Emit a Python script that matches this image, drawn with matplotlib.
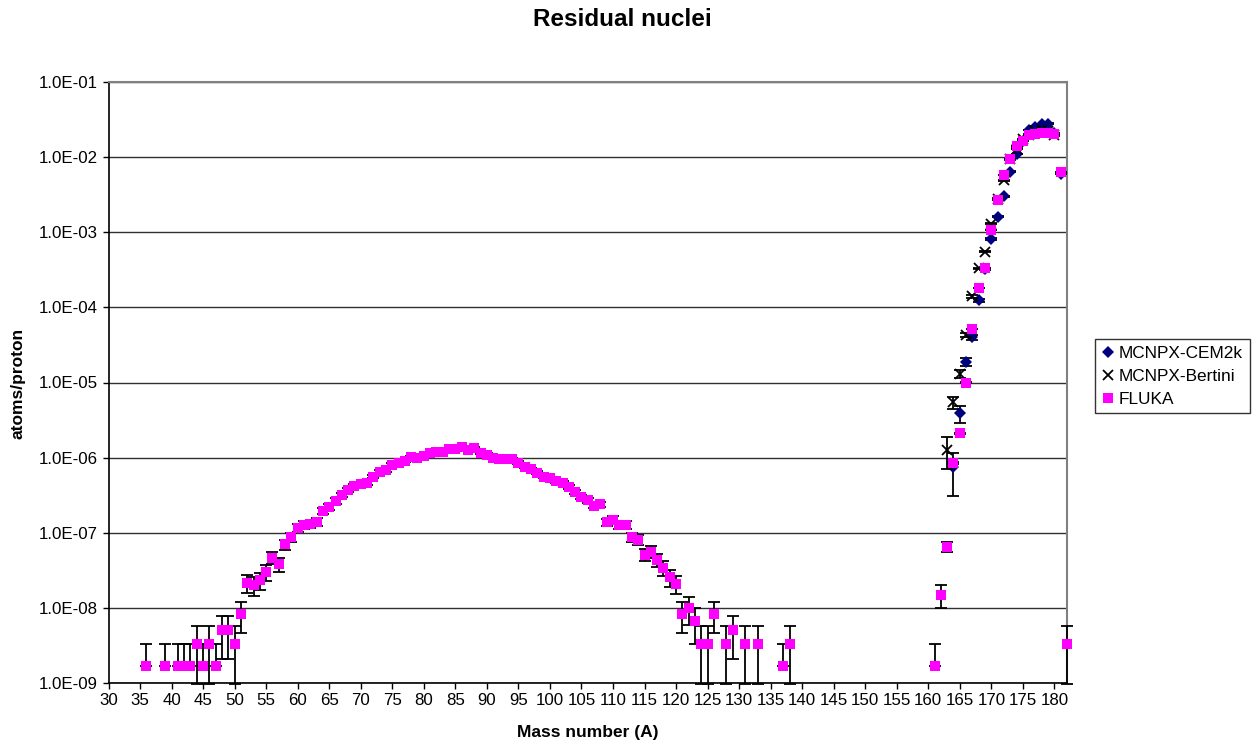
import numpy as np
import matplotlib
matplotlib.use("Agg")
import matplotlib.pyplot as plt
from matplotlib.lines import Line2D
from matplotlib.ticker import FixedLocator, FuncFormatter, NullLocator

plt.rcParams['font.family'] = ['Liberation Sans', 'DejaVu Sans']

# ---------------- data: residual nuclei yield (atoms/proton) vs mass number ----------------
# MCNPX with the CEM2k model
cem_mass = [164, 165, 166, 167, 168, 169, 170, 171, 172, 173, 174, 175, 176, 177, 178, 179, 180, 181]
cem_yield = [7.4e-7, 3.9e-6, 1.88e-5, 4.0e-5, 1.24e-4, 3.2e-4, 8.1e-4, 1.62e-3, 3.0e-3, 6.4e-3,
             1.1e-2, 1.65e-2, 2.3e-2, 2.55e-2, 2.75e-2, 2.8e-2, 2.1e-2, 6.0e-3]
cem_err = [4.3e-7, 1.0e-6, 2.2e-6, 3.0e-6, 6.0e-6, 1.0e-5, 2.0e-5, 3.0e-5, 4.0e-5, 6.0e-5,
           8.0e-5, 1.0e-4, 1.2e-4, 1.3e-4, 1.3e-4, 1.3e-4, 1.2e-4, 6.0e-5]

# MCNPX with the Bertini model
bertini_mass = [163, 164, 165, 166, 167, 168, 169, 170, 171, 172, 173, 174, 175, 176, 177, 178, 179, 180]
bertini_yield = [1.28e-6, 5.5e-6, 1.3e-5, 4.3e-5, 1.4e-4, 3.3e-4, 5.5e-4, 1.3e-3, 2.8e-3, 4.9e-3,
                 9.5e-3, 1.3e-2, 1.75e-2, 2.0e-2, 2.2e-2, 2.3e-2, 2.2e-2, 1.95e-2]
bertini_err = [5.8e-7, 1.0e-6, 1.5e-6, 2.5e-6, 5.0e-6, 8.0e-6, 1.0e-5, 2.0e-5, 3.0e-5, 4.0e-5,
               6.0e-5, 8.0e-5, 1.0e-4, 1.1e-4, 1.2e-4, 1.2e-4, 1.2e-4, 1.1e-4]

# FLUKA
fluka_mass = [36, 39, 41, 42, 43, 44, 45, 46, 47, 48, 49, 50, 51, 52, 53, 54, 55, 56, 57, 58,
              59, 60, 61, 62, 63, 64, 65, 66, 67, 68, 69, 70, 71, 72, 73, 74, 75, 76, 77, 78,
              79, 80, 81, 82, 83, 84, 85, 86, 87, 88, 89, 90, 91, 92, 93, 94, 95, 96, 97, 98,
              99, 100, 101, 102, 103, 104, 105, 106, 107, 108, 109, 110, 111, 112, 113, 114, 115, 116, 117, 118,
              119, 120, 121, 122, 123, 124, 125, 126, 128, 129, 131, 133, 137, 138,
              161, 162, 163, 164, 165, 166, 167, 168, 169, 170, 171, 172, 173, 174, 175, 176,
              177, 178, 179, 180, 181, 182]
fluka_yield = [1.67e-9, 1.67e-9, 1.67e-9, 1.67e-9, 1.67e-9, 3.33e-9, 1.67e-9, 3.33e-9, 1.67e-9, 5.0e-9,
               5.0e-9, 3.33e-9, 8.33e-9, 2.17e-8, 2.0e-8, 2.33e-8, 3.0e-8, 4.67e-8, 3.83e-8, 7.0e-8,
               8.8e-8, 1.17e-7, 1.27e-7, 1.3e-7, 1.4e-7, 1.95e-7, 2.2e-7, 2.65e-7, 3.2e-7, 3.7e-7,
               4.2e-7, 4.45e-7, 4.6e-7, 5.6e-7, 6.5e-7, 6.8e-7, 8.0e-7, 8.4e-7, 9.0e-7, 1.02e-6,
               9.8e-7, 1.06e-6, 1.15e-6, 1.18e-6, 1.2e-6, 1.3e-6, 1.3e-6, 1.39e-6, 1.26e-6, 1.35e-6,
               1.15e-6, 1.1e-6, 1.0e-6, 9.6e-7, 9.5e-7, 9.6e-7, 8.6e-7, 7.6e-7, 7.0e-7, 6.3e-7,
               5.6e-7, 5.3e-7, 4.9e-7, 4.6e-7, 4.1e-7, 3.5e-7, 3.0e-7, 2.7e-7, 2.3e-7, 2.4e-7,
               1.37e-7, 1.5e-7, 1.28e-7, 1.28e-7, 8.7e-8, 8.1e-8, 5.1e-8, 5.6e-8, 4.3e-8, 3.4e-8,
               2.55e-8, 2.1e-8, 8.33e-9, 1.0e-8, 6.67e-9, 3.33e-9, 3.33e-9, 8.33e-9, 3.33e-9, 5.0e-9,
               3.33e-9, 3.33e-9, 1.67e-9, 3.33e-9,
               1.67e-9, 1.5e-8, 6.5e-8, 8.5e-7, 2.1e-6, 1.0e-5, 5.2e-5, 1.8e-4, 3.3e-4, 1.07e-3,
               2.65e-3, 5.8e-3, 9.3e-3, 1.42e-2, 1.65e-2, 2.0e-2, 2.05e-2, 2.1e-2, 2.1e-2, 2.05e-2,
               6.3e-3, 3.33e-9]
fluka_err = [1.67e-9, 1.67e-9, 1.67e-9, 1.67e-9, 1.67e-9, 2.36e-9, 1.67e-9, 2.36e-9, 1.67e-9, 2.89e-9,
             2.89e-9, 2.36e-9, 3.73e-9, 6.0e-9, 5.8e-9, 6.2e-9, 7.1e-9, 8.8e-9, 8.0e-9, 1.08e-8,
             1.21e-8, 1.40e-8, 1.46e-8, 1.47e-8, 1.53e-8, 1.80e-8, 1.92e-8, 2.1e-8, 2.31e-8, 2.48e-8,
             2.65e-8, 2.72e-8, 2.77e-8, 3.06e-8, 3.29e-8, 3.37e-8, 3.65e-8, 3.74e-8, 3.87e-8, 4.12e-8,
             4.04e-8, 4.2e-8, 4.38e-8, 4.43e-8, 4.47e-8, 4.65e-8, 4.65e-8, 4.81e-8, 4.58e-8, 4.74e-8,
             4.38e-8, 4.28e-8, 4.08e-8, 4.0e-8, 3.98e-8, 4.0e-8, 3.79e-8, 3.56e-8, 3.42e-8, 3.24e-8,
             3.06e-8, 2.97e-8, 2.86e-8, 2.77e-8, 2.61e-8, 2.42e-8, 2.24e-8, 2.12e-8, 1.96e-8, 2.0e-8,
             1.51e-8, 1.58e-8, 1.46e-8, 1.46e-8, 1.2e-8, 1.16e-8, 9.2e-9, 9.7e-9, 8.5e-9, 7.5e-9,
             6.5e-9, 5.9e-9, 3.73e-9, 4.08e-9, 3.33e-9, 2.36e-9, 2.36e-9, 3.73e-9, 2.36e-9, 2.89e-9,
             2.36e-9, 2.36e-9, 1.67e-9, 2.36e-9,
             1.67e-9, 5.0e-9, 1.04e-8, 3.76e-8, 5.9e-8, 1.29e-7, 2.9e-7, 5.5e-7, 7.4e-7, 1.3e-6,
             2.1e-6, 3.1e-6, 3.9e-6, 4.9e-6, 5.2e-6, 5.8e-6, 5.8e-6, 5.9e-6, 5.9e-6, 5.8e-6,
             3.2e-6, 2.36e-9]

x_ticks = list(range(30, 185, 5))
y_ticks = [1e-9, 1e-8, 1e-7, 1e-6, 1e-5, 1e-4, 1e-3, 1e-2, 1e-1]

NAVY = '#000080'
MAGENTA = '#FF00FF'

W, H = 1257, 748
fig = plt.figure(figsize=(W / 100, H / 100), dpi=100)
left, right, top, bottom = 108.5, 1067, 82, 683
ax = fig.add_axes([left / W, 1 - bottom / H, (right - left) / W, (bottom - top) / H])
ax.set_yscale('log')
ax.set_xlim(30, 182)
ax.set_ylim(1e-9, 1e-1)


def lower_err(vals, errs):
    v = np.asarray(vals)
    e = np.asarray(errs)
    # a one-sigma bar that would reach zero has no lower arm on a log axis
    return np.where(e >= v * 0.999, 0.0, e)


def draw_series(xs, ys, es, marker, color, size, z, mew=0):
    ax.errorbar(xs, ys, yerr=[lower_err(ys, es), es], fmt='none', ecolor='black',
                elinewidth=1.3, capsize=4.2, capthick=1.3, zorder=z, clip_on=False)
    ax.plot(xs, ys, ls='none', marker=marker, color=color, markersize=size,
            markeredgewidth=mew, markeredgecolor=color, zorder=z + 0.5, clip_on=False)


draw_series(cem_mass, cem_yield, cem_err, 'D', NAVY, 6.0, 3)
draw_series(bertini_mass, bertini_yield, bertini_err, 'x', 'black', 6.5, 4, mew=1.3)
draw_series(fluka_mass, fluka_yield, fluka_err, 's', MAGENTA, 7.7, 5)

# axes styling
ax.yaxis.set_major_locator(FixedLocator(y_ticks))
ax.yaxis.set_minor_locator(NullLocator())
ax.yaxis.set_major_formatter(FuncFormatter(lambda v, p: f"{v:.1E}"))
ax.xaxis.set_major_locator(FixedLocator(x_ticks))
ax.xaxis.set_minor_locator(NullLocator())
ax.tick_params(axis='both', direction='out', length=4.5, width=1, labelsize=12.2, colors='black', pad=3)
ax.yaxis.grid(True, which='major', color='#303030', linewidth=1.0, zorder=1)
ax.set_axisbelow(True)
for s in ('left', 'bottom'):
    ax.spines[s].set_color('black')
    ax.spines[s].set_linewidth(1.2)
for s in ('top', 'right'):
    ax.spines[s].set_color('#808080')
    ax.spines[s].set_linewidth(1.5)

fig.text(622 / W, 1 - 19 / H, 'Residual nuclei', ha='center', va='center',
         fontsize=17.5, fontweight='bold')
fig.text(587.5 / W, 1 - 733 / H, 'Mass number (A)', ha='center', va='center',
         fontsize=12.5, fontweight='bold')
fig.text(18 / W, 1 - 383 / H, 'atoms/proton', ha='center', va='center', rotation=90,
         fontsize=12.5, fontweight='bold')

handles = [
    Line2D([], [], ls='none', marker='D', color=NAVY, markersize=6.0, markeredgewidth=0),
    Line2D([], [], ls='none', marker='x', color='black', markersize=6.5, markeredgewidth=1.3),
    Line2D([], [], ls='none', marker='s', color=MAGENTA, markersize=7.7, markeredgewidth=0),
]
labels = ['MCNPX-CEM2k', 'MCNPX-Bertini', 'FLUKA']
leg = fig.legend(handles, labels, loc='upper left', bbox_to_anchor=(1095 / W, 1 - 339 / H),
                 fontsize=12.4, frameon=True, fancybox=False, shadow=False,
                 handlelength=0.7, handletextpad=0.3, borderpad=0.4, labelspacing=0.45,
                 borderaxespad=0)
leg.get_frame().set_edgecolor('black')
leg.get_frame().set_linewidth(1.0)

fig.savefig('out.png', dpi=100)
